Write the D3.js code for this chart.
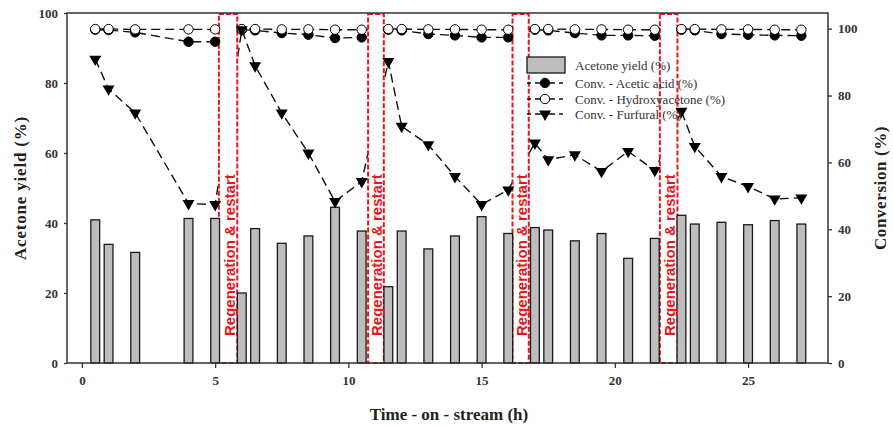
<!DOCTYPE html>
<html>
<head>
<meta charset="utf-8">
<script src="https://cdn.jsdelivr.net/npm/d3@7"></script>
<style>
  body { margin: 0; background: #fff; }
  svg { display: block; }
</style>
</head>
<body>
<div id="chart"></div>
<script>
// time on stream (h)
var hours = [0.5, 1, 2, 4, 5, 6, 6.5, 7.5, 8.5, 9.5, 10.5, 11.5, 12, 13, 14, 15, 16,
             17, 17.5, 18.5, 19.5, 20.5, 21.5, 22.5, 23, 24, 25, 26, 27];
var acetoneYield = [40.9, 33.9, 31.6, 41.3, 41.3, 20.0, 38.4, 34.2, 36.3, 44.5, 37.7, 21.8, 37.7, 32.6, 36.3, 41.8, 37.0,
                    38.7, 38.0, 34.9, 37.0, 29.9, 35.6, 42.2, 39.7, 40.2, 39.5, 40.7, 39.7];
var convAcetic = [99.7, 99.6, 98.9, 96.1, 96.1, 99.7, 99.5, 98.7, 98.2, 97.2, 97.4, 99.7, 99.5, 98.4, 98.0, 97.4, 97.4,
                  99.7, 99.5, 98.7, 98.0, 98.0, 97.9, 99.7, 99.5, 98.4, 98.2, 98.0, 97.9];
var convHydroxy = [99.9, 99.9, 99.8, 99.8, 99.8, 99.9, 99.9, 99.8, 99.8, 99.7, 99.7, 99.9, 99.9, 99.8, 99.8, 99.7, 99.7,
                   99.9, 99.9, 99.8, 99.8, 99.7, 99.7, 99.9, 99.9, 99.8, 99.8, 99.7, 99.7];
var convFurfural = [90.9, 82.0, 74.8, 47.7, 47.4, 99.7, 88.9, 74.8, 62.8, 48.3, 54.3, 90.2, 70.8, 65.3, 55.8, 47.4, 51.8,
                    65.8, 60.8, 62.3, 57.3, 63.3, 57.6, 75.3, 64.8, 55.8, 52.8, 49.1, 49.4];
// regeneration windows (h)
var regenStart = [5.14, 10.74, 16.16, 21.69];
var regenEnd = [5.83, 11.33, 16.77, 22.35];

var xTicks = [0, 5, 10, 15, 20, 25];
var yTicks = [0, 20, 40, 60, 80, 100];

var W = 893, H = 427;
var pL = 67, pR = 828, pT = 13, pB = 363;

var svg = d3.select("#chart").append("svg")
    .attr("width", W).attr("height", H);

var x = d3.scaleLinear().domain([-0.56, 28]).range([pL, pR]);
var yL = d3.scaleLinear().domain([0, 100]).range([pB, pT]);
var yR = d3.scaleLinear().domain([0, 104.7]).range([pB, pT]);

var serif = "'Liberation Serif', 'Times New Roman', serif";
var axisColor = "#333";

// rows for the lines
var rows = hours.map(function(h, i) {
    return { t: h, y: acetoneYield[i], a: convAcetic[i], h: convHydroxy[i], f: convFurfural[i] };
});

// dashed conversion lines
var series = [
    { key: "a", sym: "filled" },
    { key: "h", sym: "open" },
    { key: "f", sym: "tri" }
];

var lineGen = function(key) {
    return d3.line()
        .x(function(d) { return x(d.t); })
        .y(function(d) { return yR(d[key]); });
};

series.forEach(function(s) {
    svg.append("path")
        .datum(rows)
        .attr("d", lineGen(s.key))
        .attr("fill", "none")
        .attr("stroke", "#111")
        .attr("stroke-width", 1.4)
        .attr("stroke-dasharray", "9,5");
});

// regeneration boxes (white, cover the lines)
var regen = regenStart.map(function(s, i) { return { s: s, e: regenEnd[i] }; });

svg.selectAll("rect.regen")
    .data(regen)
    .enter().append("rect")
    .attr("class", "regen")
    .attr("x", function(d) { return x(d.s); })
    .attr("y", pT + 1)
    .attr("width", function(d) { return x(d.e) - x(d.s); })
    .attr("height", pB - pT - 1)
    .attr("fill", "#fff")
    .attr("stroke", "#e8161c")
    .attr("stroke-width", 2)
    .attr("stroke-dasharray", "5,2");

// bars
var barW = x(0.33) - x(0);
svg.selectAll("rect.bar")
    .data(rows)
    .enter().append("rect")
    .attr("class", "bar")
    .attr("x", function(d) { return x(d.t) - barW / 2; })
    .attr("y", function(d) { return yL(d.y); })
    .attr("width", barW)
    .attr("height", function(d) { return yL(0) - yL(d.y); })
    .attr("fill", "#bdbdbd")
    .attr("stroke", "#1a1a1a")
    .attr("stroke-width", 1.3);

// box labels
svg.selectAll("text.regen")
    .data(regen)
    .enter().append("text")
    .attr("class", "regen")
    .attr("transform", function(d) {
        return "translate(" + (x((d.s + d.e) / 2) + 1) + "," + 336 + ") rotate(-90)";
    })
    .attr("dominant-baseline", "central")
    .style("font-family", "'Liberation Sans', Arial, sans-serif")
    .style("font-size", "15px")
    .style("font-weight", "bold")
    .style("fill", "#e8161c")
    .text("Regeneration & restart");

// markers
function drawMarkers(sel, sym) {
    if (sym == "tri") {
        sel.append("path")
            .attr("d", d3.symbol().type(d3.symbolTriangle).size(62))
            .attr("transform", function(d) { return "translate(" + d[0] + "," + d[1] + ") rotate(180)"; })
            .attr("fill", "#000");
    } else {
        sel.append("circle")
            .attr("cx", function(d) { return d[0]; })
            .attr("cy", function(d) { return d[1]; })
            .attr("r", 4.7)
            .attr("fill", sym == "filled" ? "#000" : "#fff")
            .attr("stroke", "#000")
            .attr("stroke-width", 1);
    }
}

series.forEach(function(s) {
    var pts = rows.map(function(d) { return [x(d.t), yR(d[s.key])]; });
    var g = svg.append("g").selectAll("g").data(pts).enter().append("g");
    drawMarkers(g, s.sym);
});

// frame
svg.append("rect")
    .attr("x", pL).attr("y", pT)
    .attr("width", pR - pL).attr("height", pB - pT)
    .attr("fill", "none")
    .attr("stroke", axisColor)
    .attr("stroke-width", 1.5);

// axes
var axB = svg.append("g").attr("transform", "translate(0," + pB + ")")
    .call(d3.axisBottom(x).tickValues(xTicks).tickSize(5).tickPadding(8));
var axL = svg.append("g").attr("transform", "translate(" + pL + ",0)")
    .call(d3.axisLeft(yL).tickValues(yTicks).tickSize(3).tickPadding(6));
var axR = svg.append("g").attr("transform", "translate(" + pR + ",0)")
    .call(d3.axisRight(yR).tickValues(yTicks).tickSize(4).tickPadding(6));

[axB, axL, axR].forEach(function(a) {
    a.select(".domain").remove();
    a.selectAll("line").attr("stroke", axisColor).attr("stroke-width", 1.3);
    a.selectAll("text")
        .style("font-family", serif)
        .style("font-weight", "bold")
        .style("font-size", "13px")
        .style("fill", "#333");
});

// axis titles
svg.append("text")
    .attr("transform", "translate(20," + ((pT + pB) / 2) + ") rotate(-90)")
    .attr("text-anchor", "middle")
    .attr("dominant-baseline", "central")
    .style("font-family", serif).style("font-weight", "bold").style("font-size", "17px")
    .style("letter-spacing", "0.8px")
    .style("fill", "#222")
    .text("Acetone yield (%)");

svg.append("text")
    .attr("transform", "translate(880," + ((pT + pB) / 2) + ") rotate(-90)")
    .attr("text-anchor", "middle")
    .attr("dominant-baseline", "central")
    .style("font-family", serif).style("font-weight", "bold").style("font-size", "17px")
    .style("letter-spacing", "0.6px")
    .style("fill", "#222")
    .text("Conversion (%)");

svg.append("text")
    .attr("x", 449).attr("y", 420)
    .attr("text-anchor", "middle")
    .style("font-family", serif).style("font-weight", "bold").style("font-size", "17px")
    .style("fill", "#222")
    .text("Time - on - stream (h)");

// legend
var legendLabels = ["Acetone yield (%)", "Conv. - Acetic acid (%)", "Conv. - Hydroxyacetone (%)", "Conv. - Furfural (%)"];
var lg = svg.append("g").attr("transform", "translate(527,0)");
lg.append("rect")
    .attr("x", 0).attr("y", 57).attr("width", 38).attr("height", 16)
    .attr("fill", "#bdbdbd").attr("stroke", "#1a1a1a").attr("stroke-width", 1.3);
var legRowY = [65, 83, 99, 114];
series.forEach(function(s, i) {
    var yy = legRowY[i + 1];
    lg.append("line")
        .attr("x1", 0).attr("x2", 36).attr("y1", yy).attr("y2", yy)
        .attr("stroke", "#111").attr("stroke-width", 1.4)
        .attr("stroke-dasharray", "8,4").attr("stroke-dashoffset", 4);
    drawMarkers(lg.append("g").selectAll("g").data([[18, yy]]).enter().append("g"), s.sym);
});
lg.selectAll("text.leg")
    .data(legendLabels)
    .enter().append("text")
    .attr("class", "leg")
    .attr("x", 48)
    .attr("y", function(d, i) { return legRowY[i]; })
    .attr("dominant-baseline", "central")
    .style("font-family", serif)
    .style("font-size", "13px")
    .style("fill", "#333")
    .text(function(d) { return d; });
</script>
</body>
</html>
